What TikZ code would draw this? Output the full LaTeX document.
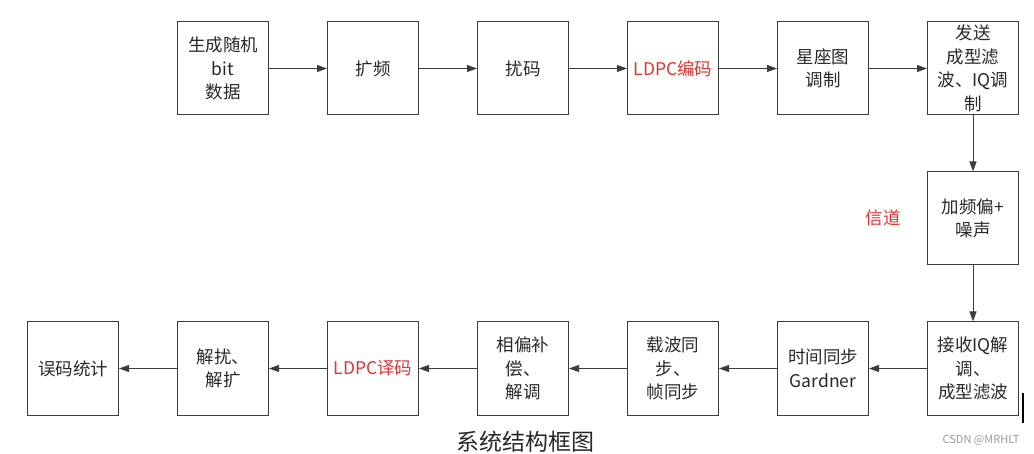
\documentclass[tikz,border=0pt]{standalone}
\usepackage{fontspec}
\usepackage{tikz}
\usetikzlibrary{arrows.meta}
\newfontfamily\cjk{Noto Sans CJK SC}
\definecolor{boxcolor}{RGB}{60,60,60}
\definecolor{textgray}{RGB}{40,40,40}
\definecolor{ldpcred}{RGB}{222,52,52}

\begin{document}
\begin{tikzpicture}[x=1pt, y=-1pt,
    blockbox/.style={draw=boxcolor, line width=1pt, minimum width=91pt, minimum height=93pt,
        inner sep=1pt, align=center, text=textgray, font=\cjk\fontsize{17.5}{23.5}\selectfont},
    redbox/.style={blockbox, text=ldpcred},
    flow/.style={draw=boxcolor, line width=1pt, -{Triangle[length=10pt, width=7pt]}}]

    \useasboundingbox (0,0) rectangle (1034,454);

    % Transmitter chain
    \node[blockbox] (tx1) at (223, 68.5) {生成随机\\bit\\数据};
    \node[blockbox] (tx2) at (373, 68.5) {扩频};
    \node[blockbox] (tx3) at (523, 68.5) {扰码};
    \node[redbox]   (tx4) at (673, 68.5) {LDPC编码};
    \node[blockbox] (tx5) at (823, 68.5) {星座图\\调制};
    \node[blockbox] (tx6) at (973, 68.5) {发送\\成型滤\\波、IQ调\\制};

    % Channel
    \node[blockbox] (chan) at (973, 218.5) {加频偏+\\噪声};
    \node[text=ldpcred, font=\cjk\fontsize{17.5}{21}\selectfont] (chanlabel) at (883, 218) {信道};

    % Receiver chain
    \node[blockbox] (rx0) at (73, 368.5)  {误码统计};
    \node[blockbox] (rx1) at (223, 368.5) {解扰、\\解扩};
    \node[redbox]   (rx2) at (373, 368.5) {LDPC译码};
    \node[blockbox] (rx3) at (523, 368.5) {相偏补\\偿、\\解调};
    \node[blockbox] (rx4) at (673, 368.5) {载波同\\步、\\帧同步};
    \node[blockbox] (rx5) at (823, 368.5) {时间同步\\Gardner};
    \node[blockbox] (rx6) at (973, 368.5) {接收IQ解\\调、\\成型滤波};

    % Connections
    \foreach \i in {1,...,5} {
        \pgfmathtruncatemacro\nxt{\i+1}
        \draw[flow] (tx\i) -- (tx\nxt);
    }
    \draw[flow] (tx6) -- (chan);
    \draw[flow] (chan) -- (rx6);
    \foreach \i in {1,...,6} {
        \pgfmathtruncatemacro\prv{\i-1}
        \draw[flow] (rx\i) -- (rx\prv);
    }

    % Caption and watermark
    \node[text=textgray, font=\cjk\fontsize{23}{26}\selectfont] (title) at (525, 442) {系统结构框图};
    \node[text=black!40, font=\cjk\fontsize{11}{13}\selectfont] (csdn) at (981, 440) {CSDN @MRHLT};
    \draw[line width=2pt] (1023,393) -- (1023,423);
\end{tikzpicture}
\end{document}
